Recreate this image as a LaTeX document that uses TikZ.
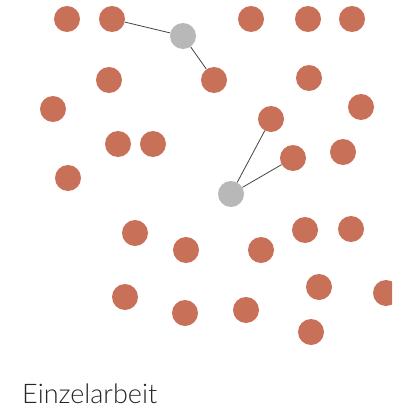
\documentclass[tikz,border=0pt]{standalone}
\usepackage{fontspec}
\setmainfont{Lato}[UprightFont=* Light]
\begin{document}
\begin{tikzpicture}[x=1pt,y=-1pt,
  dot/.style={circle,fill=dotc,draw=none,minimum size=26pt,inner sep=0pt},
  hub/.style={circle,fill=hubc,draw=none,minimum size=26pt,inner sep=0pt},
  link/.style={draw=linec,line width=0.8pt}]
\definecolor{dotc}{HTML}{C87058}
\definecolor{hubc}{HTML}{B8B8B8}
\definecolor{linec}{HTML}{444444}
\clip (0,0) rectangle (392,415);
\fill[white] (0,0) rectangle (392,415);
% hubs
\node[hub] (g1) at (183,36) {};
\node[hub] (g2) at (231,194) {};
% dots
\node[dot] (d1) at (67,19) {};
\node[dot] (d2) at (112,19) {};
\node[dot] (d3) at (251,19) {};
\node[dot] (d4) at (308,19) {};
\node[dot] (d5) at (352,19) {};
\node[dot] (d6) at (109,80) {};
\node[dot] (d7) at (214,80) {};
\node[dot] (d8) at (309,78) {};
\node[dot] (d9) at (53,109) {};
\node[dot] (d10) at (361,107) {};
\node[dot] (d11) at (271,119) {};
\node[dot] (d12) at (118,144) {};
\node[dot] (d13) at (153,144) {};
\node[dot] (d14) at (343,152) {};
\node[dot] (d15) at (293,158) {};
\node[dot] (d16) at (68,178) {};
\node[dot] (d17) at (135,233) {};
\node[dot] (d18) at (186,250) {};
\node[dot] (d19) at (261,250) {};
\node[dot] (d20) at (305,230) {};
\node[dot] (d21) at (351,229) {};
\node[dot] (d22) at (125,297) {};
\node[dot] (d23) at (185,313) {};
\node[dot] (d24) at (246,310) {};
\node[dot] (d25) at (319,287) {};
\node[dot] (d26) at (386,293) {};
\node[dot] (d27) at (311,332) {};
% links
\draw[link] (d2) -- (g1);
\draw[link] (g1) -- (d7);
\draw[link] (g2) -- (d11);
\draw[link] (g2) -- (d15);
% label
\node[anchor=base west,inner sep=0pt,text=black!85,font=\fontsize{27}{32}\selectfont] (lbl) at (22,403) {Einzelarbeit};
\end{tikzpicture}
\end{document}
